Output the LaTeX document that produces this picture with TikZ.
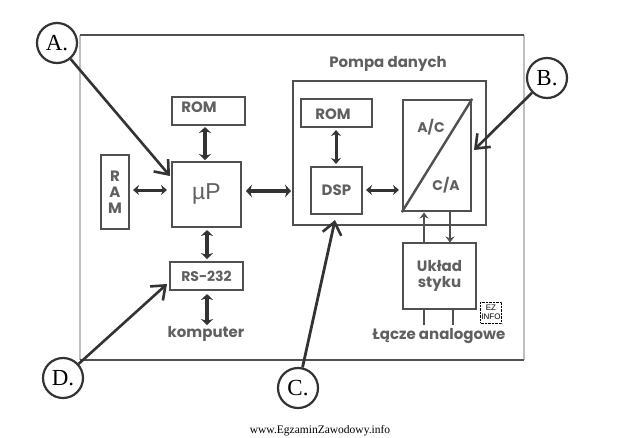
\documentclass[tikz,border=0pt]{standalone}
\usepackage{fontspec}
\setmainfont{Poppins}
\newfontfamily\lib{Liberation Sans}
\newfontfamily\serifb{Liberation Serif}
\usetikzlibrary{arrows.meta,calc}
\definecolor{ln}{HTML}{505050}
\definecolor{txt}{HTML}{606060}
\definecolor{dk}{HTML}{333333}
\tikzset{
 blockbox/.style={draw=ln,line width=2.4pt,fill=white,inner sep=0pt,font=\bfseries\fontsize{15}{17}\selectfont,text=txt,align=center},
 lbl/.style={font=\bfseries\fontsize{15}{17}\selectfont,text=txt,inner sep=0pt,align=center},
 callout/.style={circle,draw=dk,line width=2.2pt,fill=white,minimum size=40pt,inner sep=0pt,font=\serifb\fontsize{23}{25}\selectfont,text=black},
 busthin/.style={draw=dk,line width=3pt,{Stealth[length=6pt,width=10pt]}-{Stealth[length=6pt,width=10pt]}},
 busmid/.style={draw=dk,line width=3.4pt,{Stealth[length=6pt,width=12pt]}-{Stealth[length=6pt,width=12pt]}},
 busthick/.style={draw=dk,line width=4.6pt,{Stealth[length=6pt,width=13pt]}-{Stealth[length=6pt,width=13pt]}},
 pointer/.style={draw=dk,line width=2.6pt,-{Straight Barb[length=12pt,width=19pt,line width=2.6pt]}},
}
\begin{document}
\begin{tikzpicture}[x=1pt,y=-1pt]
\useasboundingbox (0,0) rectangle (640,437);
% outer frame
\coordinate (tl) at (80,35);\coordinate (tr) at (524,35);
\coordinate (bl) at (80,360);\coordinate (br) at (524,360);
\draw[color=black!25,line width=1.4pt] (tl)--(bl) (tr)--(br);
\draw[color=ln,line width=2.2pt] (tl)--(tr) (bl)--(br);
% left part
\node[blockbox,minimum width=72.6pt,minimum height=28pt] (rom1) at (208.4,111) {};
\node[lbl] (rom1t) at (199,107) {ROM};
\node[blockbox,minimum width=69pt,minimum height=65pt] (up) at (206.5,194.4) {};
\node[font=\lib\fontsize{23}{25}\selectfont,text=txt,inner sep=0pt] (upt) at (206.5,194) {µP};
\node[blockbox,minimum width=28pt,minimum height=74pt] (ram) at (115,192) {R\\[-1pt]A\\[-1pt]M};
\node[blockbox,minimum width=73pt,minimum height=28pt,font=\bfseries\fontsize{14}{16}\selectfont] (rs) at (206.5,276) {RS-232};
\node[lbl] (komp) at (206,334) {komputer};
% pump
\node[draw=ln,line width=2.4pt,minimum width=193pt,minimum height=144pt,inner sep=0pt] (pompa) at (389.5,153) {};
\node[lbl] (ptitle) at (388,64) {Pompa danych};
\node[blockbox,minimum width=71pt,minimum height=28pt] (rom2) at (336.5,113) {};
\node[lbl] (rom2t) at (333,114) {ROM};
\node[blockbox,minimum width=51.4pt,minimum height=47.4pt] (dsp) at (336.4,190.4) {DSP};
\node[blockbox,minimum width=68pt,minimum height=111pt] (ac) at (437,155.5) {};
\draw[draw=ln,line width=2.4pt] (ac.north east)--(ac.south west);
\node[lbl,font=\bfseries\fontsize{14}{16}\selectfont] (actxt) at (431,127) {A/C};
\node[lbl,font=\bfseries\fontsize{14}{16}\selectfont] (catxt) at (446,185) {C/A};
\node[blockbox,minimum width=73pt,minimum height=66pt] (uklad) at (439.5,276) {Układ\\[-1pt]styku};
\node[lbl] (lacze) at (439,336) {Łącze analogowe};
% buses
\draw[busthin] (133,190) -- (167,190);
\draw[busmid] (205,127) -- (205,160);
\draw[busthick] (246,191) -- (291,191);
\draw[busmid] (207,230) -- (207,259);
\draw[busmid] (207,294) -- (207,325);
\draw[busthin] (336,130) -- (336,164);
\draw[busthin] (366,190) -- (399,190);
\draw[draw=ln,line width=2.4pt,-{Stealth[length=6pt,width=9pt]}] (424,243) -- (424,212.5);
\draw[draw=ln,line width=2.4pt,-{Stealth[length=6pt,width=9pt]}] (450,212) -- (450,242.5);
\draw[draw=ln,line width=2.8pt] (424,310) -- (424,325);
\draw[draw=ln,line width=2.8pt] (453,310) -- (453,325);
% EZ INFO mark
\node[draw=black,densely dotted,line width=.4pt,minimum width=21pt,minimum height=21pt,inner sep=0pt,align=center,font=\lib\fontsize{8}{8.5}\selectfont] (ez) at (491,312.5) {EZ\\INFO};
% callouts
\node[callout] (A) at (57,43) {A.};
\node[callout] (B) at (547,78) {B.};
\node[callout] (C) at (298,388) {C.};
\node[callout] (D) at (63,378) {D.};
\coordinate (ta) at (170,176);
\coordinate (tb) at (474,150);
\coordinate (tc) at (335,220);
\coordinate (td) at (167,284);
\draw[pointer] (A) -- (ta);
\draw[pointer] (B) -- (tb);
\draw[pointer,line width=2.8pt] (C) -- (tc);
\draw[pointer] (D) -- (td);
\node[font=\serifb\fontsize{11.5}{13}\selectfont,text=black,inner sep=0pt] (web) at (320,431) {www.EgzaminZawodowy.info};
\end{tikzpicture}
\end{document}
